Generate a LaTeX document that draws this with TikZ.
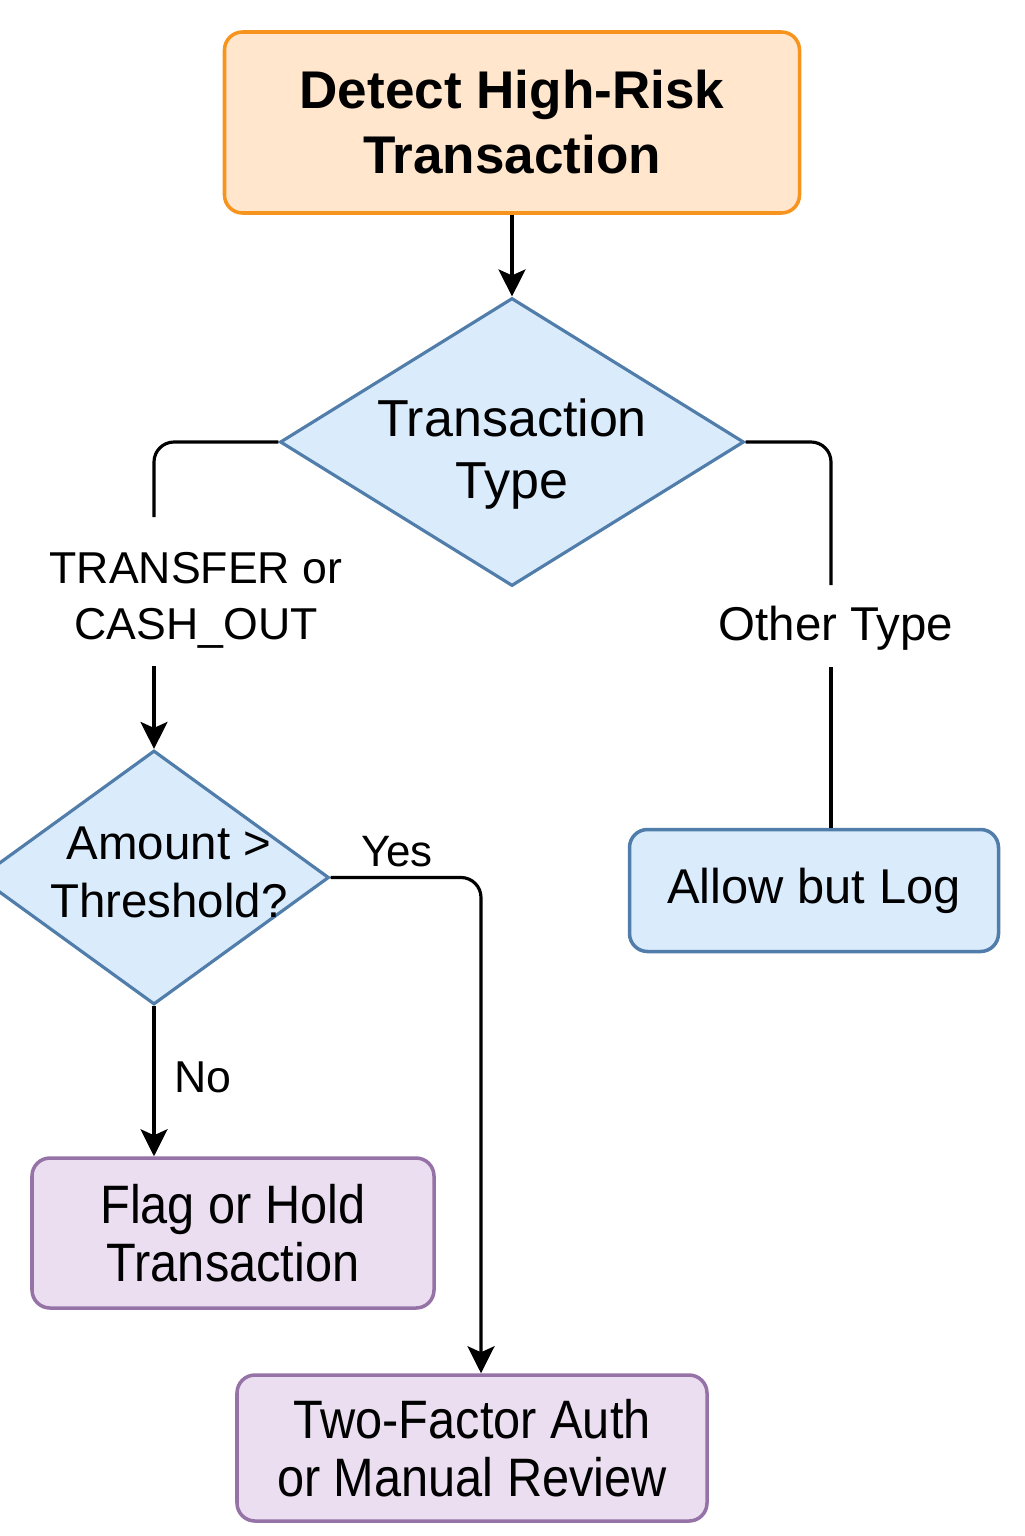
\documentclass[tikz,border=0pt]{standalone}
\usepackage{fontspec}
\setmainfont{Liberation Sans}
\newfontfamily\narrowfont[FakeStretch=0.9]{Liberation Sans}
\usetikzlibrary{arrows.meta,shapes.geometric}
\definecolor{O}{RGB}{247, 148, 29}
\definecolor{Of}{RGB}{255, 230, 204}
\definecolor{B}{RGB}{80, 125, 170}
\definecolor{Bf}{RGB}{218, 235, 252}
\definecolor{P}{RGB}{150, 115, 166}
\definecolor{Pf}{RGB}{235, 222, 240}

\tikzset{
	caja/.style={draw, rounded corners=0.18cm, line width=1pt, align=center, inner sep=0pt},
	rombo/.style={diamond, draw=B, fill=Bf, line width=0.9pt, inner sep=0pt},
	flecha/.style={line width=0.9pt, -{Stealth[length=0.27cm,width=0.27cm,inset=0.06cm]}},
	linea/.style={line width=0.9pt, rounded corners=0.2cm},
	etiq/.style={align=center, inner sep=0pt}
}

\begin{document}
\begin{tikzpicture}
	% Fondo
	\useasboundingbox (0,0) rectangle (10.24,-15.36);
	\fill[white] (0,0) rectangle (10.24,-15.36);

	% Inicio
	\node[caja, draw=O, fill=Of, minimum width=5.75cm, minimum height=1.81cm,
		font=\bfseries\fontsize{15.1}{18.5}\selectfont] (detect) at (5.12,-1.225) {Detect High-Risk\\Transaction};

	% Primera decision
	\node[rombo, aspect=1.61, minimum width=4.64cm, minimum height=2.88cm] (tipo) at (5.12,-4.42) {};
	\node[etiq, font=\fontsize{14.8}{17.6}\selectfont] (tipotxt) at (5.12,-4.54) {Transaction\\Type};

	% Segunda decision (el texto se sale del rombo)
	\node[rombo, aspect=1.38, minimum width=3.5cm, minimum height=2.54cm] (monto) at (1.54,-8.775) {};
	\node[etiq, font=\fontsize{13.5}{16.5}\selectfont] (montotxt) at (1.69,-8.72) {Amount >\\Threshold?};

	% Resultados
	\node[caja, draw=B, fill=Bf, minimum width=3.69cm, minimum height=1.22cm,
		font=\fontsize{13.9}{16}\selectfont] (permitir) at (8.14,-8.905) {Allow but Log};
	\node[caja, draw=P, fill=Pf, minimum width=4.02cm, minimum height=1.5cm,
		font={\narrowfont\fontsize{15.4}{16.5}\selectfont}] (retener) at (2.33,-12.33) {Flag or Hold\\Transaction};
	\node[caja, draw=P, fill=Pf, minimum width=4.7cm, minimum height=1.46cm,
		font={\narrowfont\fontsize{15.4}{16.5}\selectfont}] (revisar) at (4.72,-14.48) {Two-Factor Auth\\or Manual Review};

	% Etiquetas
	\node[etiq, font=\fontsize{12.7}{15.9}\selectfont] (lbltr) at (1.96,-6.0) {TRANSFER or\\CASH\_OUT};
	\node[etiq, font=\fontsize{13.5}{16}\selectfont] (lblotro) at (8.36,-6.285) {Other Type};
	\node[etiq, font=\fontsize{12.5}{15}\selectfont] (lblsi) at (3.97,-8.515) {Yes};
	\node[etiq, font=\fontsize{12.7}{15}\selectfont] (lblno) at (2.03,-10.775) {No};

	% Conectores
	\coordinate (tr1) at (1.54,-5.17);
	\coordinate (tr2) at (1.54,-6.66);
	\coordinate (ot1) at (8.31,-5.85);
	\coordinate (ot2) at (8.31,-6.67);

	\draw[flecha] (detect.south) -- (tipo.north);
	\draw[linea] (tipo.west) -| (tr1);
	\draw[flecha] (tr2) -- (monto.north);
	\draw[linea] (tipo.east) -| (ot1);
	\draw[linea] (ot2) -- (ot2 |- permitir.north);
	\draw[flecha, rounded corners=0.2cm] (monto.east) -| ([xshift=0.09cm]revisar.north);
	\draw[flecha] (monto.south) -- (monto.south |- retener.north);
\end{tikzpicture}
\end{document}
